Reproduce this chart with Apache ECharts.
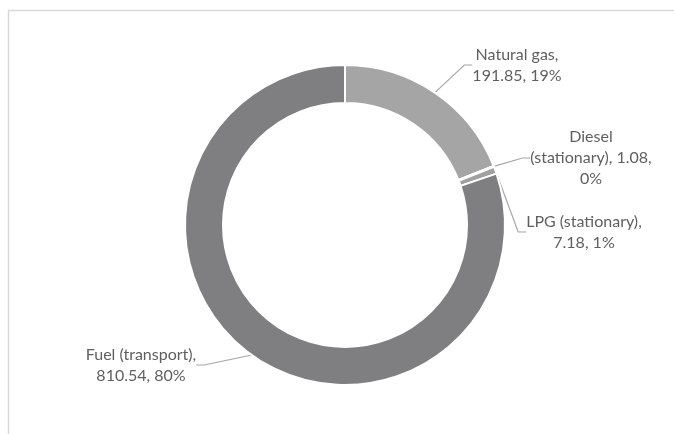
<!DOCTYPE html>
<html>
<head>
<meta charset="utf-8">
<script src="https://cdn.jsdelivr.net/npm/echarts@6/dist/echarts.min.js"></script>
<style>
html,body{margin:0;padding:0;background:#fff;}
#chart{width:674px;height:434px;}
</style>
</head>
<body>
<div id="chart"></div>
<script>
// Data
const categories = ['Natural gas', 'Diesel (stationary)', 'LPG (stationary)', 'Fuel (transport)'];
const values = [191.85, 1.08, 7.18, 810.54];

const colors = ['#a5a5a5', '#c4c4c4', '#a0a0a0', '#7f7f81'];
// label text layouts (line-break patterns)
function labelText(p) {
  const v = p.value.toFixed(2);
  const pct = p.percent + '%';
  switch (p.dataIndex) {
    case 1: return p.name.replace(' ', '\n') + ', ' + v + ',\n' + pct;
    default: return p.name + ',\n' + v + ', ' + pct;
  }
}
const labelPos = [[517, 65], [591, 158], [584, 232], [141, 365]];

const chart = echarts.init(document.getElementById('chart'), null, {renderer: 'canvas'});
chart.setOption({
  animation: false,
  backgroundColor: '#ffffff',
  graphic: [{
    type: 'rect',
    shape: {x: 8.5, y: 10.5, width: 700, height: 460},
    style: {fill: 'none', stroke: '#d9d9d9', lineWidth: 1.5},
    silent: true
  }],
  series: [{
    type: 'pie',
    center: [345, 225],
    radius: [122, 160],
    startAngle: 90,
    clockwise: true,
    percentPrecision: 0,
    avoidLabelOverlap: false,
    itemStyle: {borderColor: '#ffffff', borderWidth: 2},
    label: {
      show: true,
      position: 'outside',
      formatter: labelText,
      fontFamily: 'Lato',
      fontSize: 16,
      lineHeight: 21,
      color: '#5f5f5f',
      align: 'center'
    },
    labelLine: {
      show: true,
      length: 20,
      length2: 8,
      lineStyle: {color: '#a6a6a6', width: 1.2}
    },
    labelLayout: function (params) {
      const pos = labelPos[params.dataIndex];
      return {x: pos[0], y: pos[1], align: 'center', verticalAlign: 'middle'};
    },
    data: categories.map((c, i) => ({name: c, value: values[i], itemStyle: {color: colors[i]}}))
  }]
});
</script>
</body>
</html>
